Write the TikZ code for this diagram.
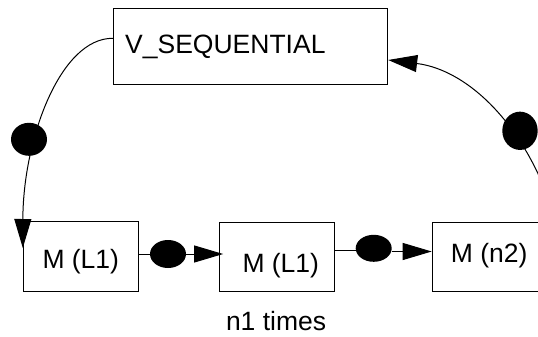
\documentclass[tikz,border=0pt]{standalone}
\usepackage{fontspec}
\setmainfont{Liberation Sans}
\usetikzlibrary{arrows.meta,shapes.geometric}
\begin{document}
\begin{tikzpicture}[x=1pt,y=-1pt,
  box/.style={draw=black,line width=1pt,inner sep=0pt,rectangle},
  lbl/.style={inner sep=0pt,anchor=base west,font=\fontsize{26.5}{30}\selectfont},
  dot/.style={ellipse,fill=black,inner sep=0pt},
  wire/.style={line width=1pt},
  conn/.style={line width=1pt,-{Triangle[length=29pt,width=17pt]}}]
\useasboundingbox (0,0) rectangle (538,337);
% boxes
\node[box,minimum width=274.4pt,minimum height=75.3pt] (vseq) at (250.5,46.65) {};
\node[box,minimum width=115pt,minimum height=69.3pt] (b1) at (80.8,256.35) {};
\node[box,minimum width=114.7pt,minimum height=68.7pt] (b2) at (277,256.65) {};
\node[box,minimum width=115pt,minimum height=68.7pt] (b3) at (489.7,256.65) {};
% texts
\node[lbl] (tv) at (125,53.3) {V\_SEQUENTIAL};
\node[lbl] (t1) at (42.3,268.3) {M (L1)};
\node[lbl] (t2) at (242.3,272.7) {M (L1)};
\node[lbl] (t3) at (450.7,262.7) {M (n2)};
\node[lbl] (tn) at (225.8,330.7) {n1 times};
% dots
\node[dot,minimum width=36pt,minimum height=33pt] (d1) at (29,139.3) {};
\node[dot,minimum width=35.4pt,minimum height=38.3pt] (d2) at (520,130.8) {};
\node[dot,minimum width=36pt,minimum height=28pt] (d3) at (168,254) {};
\node[dot,minimum width=36pt,minimum height=27pt] (d4) at (373.7,248.3) {};
% coordinates
\coordinate (s1) at (vseq.west |- 0,38.3);
\coordinate (e1) at (b1.west |- 0,248);
\coordinate (s2) at (556,222);
\coordinate (e2) at (vseq.east |- 0,60);
% curves
\draw[conn] (s1) .. controls (60,38) and (23,140) .. (e1);
\draw[conn] (s2) .. controls (530,130) and (470,70) .. (e2);
% straight connectors
\draw[wire] (b1.east |- d3) -- (d3);
\draw[conn] (d3) -- ([xshift=4pt]b2.west |- d3);
\draw[wire] (b2.east |- 0,250.7) -- (d4.west |- 0,250.7);
\draw[conn] (d4.east |- 0,251.5) -- (b3.west |- 0,251.5);
\end{tikzpicture}
\end{document}
